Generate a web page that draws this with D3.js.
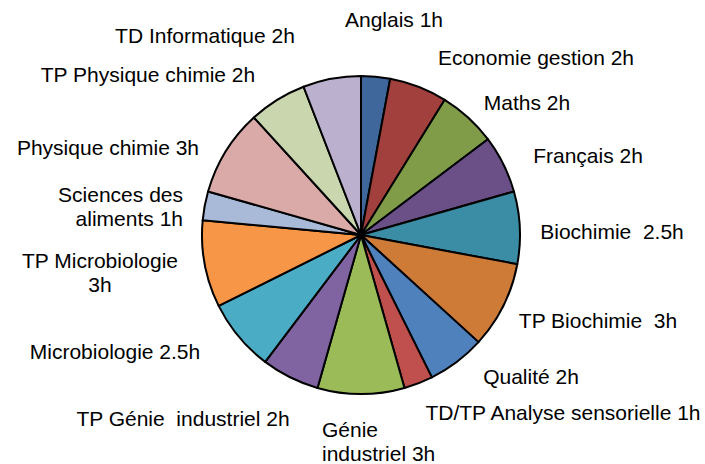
<!DOCTYPE html>
<html>
<head>
<meta charset="utf-8">
<script src="https://cdn.jsdelivr.net/npm/d3@7"></script>
<style>
  body { margin: 0; background: #fff; }
  .lbl { font-family: "Liberation Sans", Arial, sans-serif; font-size: 21px; fill: #000; white-space: pre; }
</style>
</head>
<body>
<script>
//subjects, hours per week
var subjects = ["Anglais", "Economie gestion", "Maths", "Français", "Biochimie",
                "TP Biochimie", "Qualité", "TD/TP Analyse sensorielle", "Génie industriel",
                "TP Génie industriel", "Microbiologie", "TP Microbiologie",
                "Sciences des aliments", "Physique chimie", "TP Physique chimie", "TD Informatique"];
var hours = [1, 2, 2, 2, 2.5, 3, 2, 1, 3, 2, 2.5, 3, 1, 3, 2, 2];

//label texts as written on the chart (line breaks with \n)
var labels = ["Anglais 1h", "Economie gestion 2h", "Maths 2h", "Français 2h", "Biochimie  2.5h",
              "TP Biochimie  3h", "Qualité 2h", "TD/TP Analyse sensorielle 1h", "Génie\nindustriel 3h",
              "TP Génie  industriel 2h", "Microbiologie 2.5h", "TP Microbiologie\n3h",
              "Sciences des\naliments 1h", "Physique chimie 3h", "TP Physique chimie 2h", "TD Informatique 2h"];

var colors = ["#3F679B", "#A1403D", "#809C49", "#6A5087", "#3A8DA4", "#CD7B37", "#4F81BD", "#C0504D",
              "#9BBB59", "#8064A2", "#4BACC6", "#F79646", "#A9B9D8", "#D9AAA8", "#C9D6AE", "#BBB0CD"];

//label placement: [anchor, x, baseline y]
var labelPos = [
    ["middle", 394, 27], ["middle", 536, 65], ["middle", 527, 110], ["middle", 588, 163],
    ["middle", 612, 239], ["middle", 598, 328], ["middle", 531, 384], ["middle", 563, 420],
    ["start", 322, 437], ["middle", 183, 426], ["middle", 115, 359], ["middle", 100, 268],
    ["end", 183, 202], ["middle", 108, 155], ["middle", 148, 82], ["middle", 205, 43]
];

var width = 705, height = 464;
var cx = 361, cy = 235, radius = 159;

var svg = d3.select("body").append("svg")
    .attr("width", width)
    .attr("height", height);

var pie = d3.pie().sort(null).value(function(d){ return d; });
var arc = d3.arc().innerRadius(0).outerRadius(radius);

var g = svg.append("g").attr("transform", "translate(" + cx + "," + cy + ")");

g.selectAll(".slice")
    .data(pie(hours))
    .enter()
    .append("path")
    .attr("class", "slice")
    .attr("d", arc)
    .style("fill", function(d, i){ return colors[i]; })
    .style("stroke", "#000")
    .style("stroke-width", 2)
    .style("stroke-linejoin", "round");

var texts = svg.selectAll(".lbl")
    .data(labels)
    .enter()
    .append("text")
    .attr("class", "lbl")
    .attr("text-anchor", function(d, i){ return labelPos[i][0]; })
    .attr("x", function(d, i){ return labelPos[i][1]; })
    .attr("y", function(d, i){ return labelPos[i][2]; });

texts.each(function(d, i){
    var lines = d.split("\n");
    var t = d3.select(this);
    lines.forEach(function(line, k){
        t.append("tspan")
            .attr("x", labelPos[i][1])
            .attr("dy", k === 0 ? 0 : 24)
            .text(line);
    });
});
</script>
</body>
</html>
